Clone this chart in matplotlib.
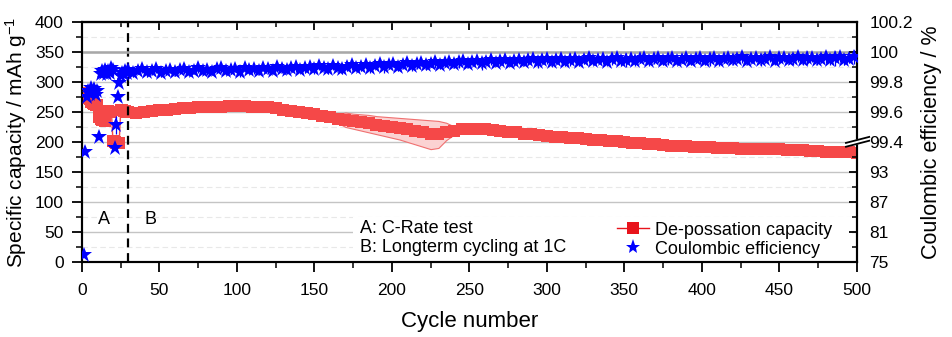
import numpy as np
import matplotlib
matplotlib.use("Agg")
import matplotlib.pyplot as plt
from matplotlib.lines import Line2D
from matplotlib.patches import Rectangle
from matplotlib.ticker import MultipleLocator, FixedLocator

plt.rcParams["font.family"] = ["Liberation Sans", "DejaVu Sans"]
plt.rcParams["mathtext.fontset"] = "custom"
plt.rcParams["mathtext.rm"] = "Liberation Sans"
plt.rcParams["mathtext.it"] = "Liberation Sans:italic"

# rate test (cycles 1-29), one point per cycle
cyc_early = list(range(1, 30))
cap_early = [281, 278, 276, 274, 272, 267, 265, 263, 262, 261,
             241, 239, 237, 236, 235, 252, 251, 250, 250,
             201, 200, 199, 198, 198, 254, 253, 252, 251, 250]
ce_early = [76.4, 97.0, 99.70, 99.74, 99.72, 99.76, 99.73, 99.75, 99.71, 99.74,
            99.43, 99.85, 99.87, 99.86, 99.88, 99.85, 99.87, 99.86, 99.89, 99.88,
            97.8, 99.51, 99.70, 99.79, 99.84, 99.86, 99.85, 99.87, 99.86]
ce_early_err = [0.0, 0.0, 0.01, 0.01, 0.01, 0.01, 0.01, 0.01, 0.01, 0.01,
                0.0, 0.015, 0.015, 0.015, 0.015, 0.015, 0.02, 0.015, 0.02, 0.04,
                0.0, 0.06, 0.02, 0.02, 0.015, 0.015, 0.015, 0.015, 0.015]

# long-term cycling at 1C: capacity every 5th cycle from 30 to 500
cap_cyc = list(range(30, 501, 5))
cap_long = [250, 249, 250, 251, 253, 254, 255, 256, 257, 258,
            258, 259, 259, 260, 260, 260, 259, 259, 258, 256,
            254, 252, 250, 248, 246, 244, 241, 239, 237, 235,
            233, 231, 229, 227, 225, 223, 221, 219, 216, 214,
            214, 216, 219, 221, 222, 222, 221, 220, 219, 217,
            216, 214, 213, 211, 210, 209, 208, 207, 206, 205,
            204, 203, 202, 201, 200, 199, 198, 197, 196, 195,
            194, 194, 193, 192, 191, 191, 190, 190, 190, 189,
            189, 189, 188, 188, 188, 187, 187, 186, 185, 185,
            184, 184, 183, 183, 182]

# coulombic efficiency every 3rd cycle from 30 to 498
ce_cyc = list(range(30, 499, 3))
ce_long = [99.878, 99.862, 99.874, 99.885, 99.866, 99.871, 99.889, 99.860, 99.876, 99.882,
           99.868, 99.880, 99.887, 99.864, 99.875, 99.891, 99.870, 99.878, 99.866, 99.884,
           99.892, 99.872, 99.881, 99.888, 99.869, 99.894, 99.879, 99.885, 99.874, 99.896,
           99.883, 99.876, 99.899, 99.886, 99.878, 99.893, 99.902, 99.881, 99.890, 99.897,
           99.884, 99.905, 99.893, 99.888, 99.908, 99.896, 99.884, 99.902, 99.911, 99.893,
           99.899, 99.914, 99.890, 99.905, 99.918, 99.897, 99.910, 99.921, 99.902, 99.913,
           99.925, 99.906, 99.917, 99.929, 99.911, 99.921, 99.932, 99.914, 99.926, 99.935,
           99.918, 99.930, 99.939, 99.921, 99.933, 99.942, 99.924, 99.936, 99.944, 99.927,
           99.938, 99.947, 99.929, 99.941, 99.949, 99.931, 99.943, 99.952, 99.933, 99.945,
           99.950, 99.934, 99.946, 99.955, 99.936, 99.948, 99.953, 99.935, 99.947, 99.957,
           99.938, 99.949, 99.954, 99.936, 99.951, 99.959, 99.939, 99.948, 99.956, 99.937,
           99.952, 99.958, 99.940, 99.950, 99.961, 99.938, 99.953, 99.957, 99.941, 99.949,
           99.960, 99.939, 99.954, 99.958, 99.942, 99.951, 99.962, 99.940, 99.955, 99.959,
           99.943, 99.950, 99.963, 99.941, 99.956, 99.960, 99.944, 99.952, 99.964, 99.942,
           99.957, 99.961, 99.945, 99.953, 99.965, 99.943, 99.958, 99.962, 99.946, 99.954,
           99.966, 99.944, 99.959, 99.963, 99.947, 99.955, 99.967]
ce_long_err = [0.024, 0.031, 0.020, 0.027, 0.035, 0.022, 0.029, 0.025, 0.033, 0.021,
               0.028, 0.023, 0.036, 0.026, 0.022, 0.030, 0.025, 0.034, 0.021, 0.027,
               0.032, 0.024, 0.029, 0.022, 0.038, 0.026, 0.023, 0.031, 0.027, 0.025,
               0.030, 0.022, 0.035, 0.027, 0.024, 0.029, 0.033, 0.023, 0.028, 0.026,
               0.031, 0.025, 0.022, 0.037, 0.027, 0.024, 0.030, 0.026, 0.034, 0.023,
               0.029, 0.025, 0.032, 0.022, 0.028, 0.040, 0.026, 0.024, 0.031, 0.027,
               0.023, 0.033, 0.028, 0.025, 0.030, 0.024, 0.036, 0.027, 0.022, 0.029,
               0.026, 0.034, 0.025, 0.031, 0.023, 0.028, 0.042, 0.026, 0.030, 0.024,
               0.032, 0.027, 0.025, 0.035, 0.028, 0.023, 0.030, 0.026, 0.038, 0.025,
               0.029, 0.033, 0.024, 0.031, 0.027, 0.045, 0.026, 0.030, 0.025, 0.034,
               0.028, 0.024, 0.032, 0.027, 0.036, 0.025, 0.030, 0.048, 0.026, 0.031,
               0.029, 0.025, 0.034, 0.028, 0.032, 0.026, 0.039, 0.027, 0.030, 0.025,
               0.033, 0.028, 0.026, 0.036, 0.029, 0.044, 0.027, 0.031, 0.026, 0.035,
               0.030, 0.027, 0.038, 0.028, 0.033, 0.026, 0.041, 0.029, 0.032, 0.027,
               0.036, 0.030, 0.028, 0.039, 0.031, 0.027, 0.046, 0.030, 0.034, 0.029,
               0.038, 0.032, 0.050, 0.033, 0.036, 0.031, 0.045]

# spread of the capacity over parallel cells
band_cyc = list(range(160, 246, 5))
band_hi = [241, 246, 249, 247, 246, 245, 243, 242, 241, 240, 239, 238, 237, 236, 235, 232, 226, 221]
band_lo = [241, 232, 225, 222, 219, 216, 213, 210, 207, 204, 200, 196, 192, 188, 190, 203, 212, 221]

ce_ticks = [75, 81, 87, 93, 99.4, 99.6, 99.8, 100, 100.2]
ce_ticklabels = ["75", "81", "87", "93", "99.4", "99.6", "99.8", "100", "100.2"]
ce_minor = [78, 84, 90, 96, 99.5, 99.7, 99.9, 100.1]

# broken efficiency axis: 75-99 on the lower half, 99.4-100.2 on the upper half
CE_KNOTS = [75, 99, 99.4, 100.2]
Y_KNOTS = [0, 200, 200.001, 400]


def ce_fwd(v):
    return np.interp(v, CE_KNOTS, Y_KNOTS)


def ce_inv(v):
    return np.interp(v, Y_KNOTS, CE_KNOTS)


RED = "#f54848"
BLUE = "#0000ff"

fig = plt.figure(figsize=(9.52, 3.37), dpi=100)
ax = fig.add_axes([0.0861, 0.2226, 0.9 - 0.0861, 0.935 - 0.2226])
ax2 = ax.twinx()
ax2.set_yscale("function", functions=(ce_fwd, ce_inv))

# capacity
ax.fill_between(band_cyc, band_lo, band_hi, facecolor="#fbd2d2", edgecolor="#f07070",
                lw=0.8, zorder=2)
ax.plot(cyc_early + cap_cyc, cap_early + cap_long, color=RED, lw=1, marker="s", ms=8.5,
        mew=0, zorder=3)

# coulombic efficiency
ax2.axhline(100, color="#a8a8a8", lw=1.8, zorder=0)
ax2.errorbar(cyc_early + ce_cyc, ce_early + ce_long, yerr=ce_early_err + ce_long_err,
             fmt="*", color=BLUE, ms=12, mew=0, elinewidth=0.9, capsize=3.5, capthick=0.9,
             zorder=3)

ax.set_xlim(0, 500)
ax.set_ylim(0, 400)
ax2.set_ylim(75, 100.2)

ax.xaxis.set_major_locator(MultipleLocator(50))
ax.xaxis.set_minor_locator(MultipleLocator(25))
ax.yaxis.set_major_locator(MultipleLocator(50))
ax.yaxis.set_minor_locator(MultipleLocator(25))
ax2.yaxis.set_major_locator(FixedLocator(ce_ticks))
ax2.yaxis.set_minor_locator(FixedLocator(ce_minor))
ax2.set_yticklabels(ce_ticklabels)

ax.set_axisbelow(True)
ax.yaxis.grid(True, which="major", color="#c4c4c4", lw=1.0)
ax.yaxis.grid(True, which="minor", color="#e8e8e8", lw=0.8, ls=(0, (5, 3)))

ax.tick_params(axis="both", which="major", direction="out", length=7, width=1.3,
               labelsize=12.5, pad=6, right=False, top=False)
ax.tick_params(axis="both", which="minor", direction="out", length=4, width=1.1,
               right=False, top=False)
ax.tick_params(axis="x", which="major", pad=8)
ax2.tick_params(axis="y", which="major", direction="in", length=6, width=1.3,
                labelsize=12.5, pad=9)
ax2.tick_params(axis="y", which="minor", direction="in", length=3.5, width=1.1)

top = ax.secondary_xaxis("top")
top.xaxis.set_major_locator(MultipleLocator(50))
top.xaxis.set_minor_locator(MultipleLocator(25))
top.tick_params(which="major", direction="in", length=6, width=1.3, labeltop=False)
top.tick_params(which="minor", direction="in", length=3.5, width=1.1)
top.spines["top"].set_linewidth(1.5)

for a in (ax, ax2):
    for s in a.spines.values():
        s.set_linewidth(1.5)
        s.set_color("black")

ax.set_xlabel("Cycle number", fontsize=16)
ax.xaxis.set_label_coords(0.5, -0.205)
ax.set_ylabel("Specific capacity / mAh g$^{-1}$", fontsize=15)
ax.yaxis.set_label_coords(-0.068, 0.5)
ax2.set_ylabel("Coulombic efficiency / %", fontsize=15.5, rotation=90)
ax2.yaxis.set_label_coords(1.083, 0.5)

# end of the rate test
ax.axvline(30, color="black", lw=1.6, ls=(0, (4, 2.6)), zorder=4)
ax.text(14, 70, "A", fontsize=13, ha="center", va="center")
ax.text(44, 70, "B", fontsize=13, ha="center", va="center")

# white area behind the notes and the legend
ax.add_patch(Rectangle((175, 3), 322, 72, facecolor="white", edgecolor="none", zorder=1))
ax.text(179.5, 56, "A: C-Rate test", fontsize=13, va="center", zorder=5)
ax.text(179.5, 24, "B: Longterm cycling at 1C", fontsize=13, va="center", zorder=5)

handles = [Line2D([], [], color="#e8141c", lw=1, marker="s", ms=9, mew=0),
           Line2D([], [], color=BLUE, lw=0, marker="*", ms=11, mew=0)]
ax.legend(handles, ["De-possation capacity", "Coulombic efficiency"],
          loc="upper left", bbox_to_anchor=(0.69, 0.168), frameon=False, fontsize=13,
          handlelength=1.8, handletextpad=0.3, labelspacing=0.12, borderpad=0,
          borderaxespad=0)

# break marks on the right spine
t = ax2.transAxes
ax2.fill([0.988, 1.013, 1.013, 0.988], [0.482, 0.503, 0.518, 0.497], color="white",
         transform=t, clip_on=False, zorder=10)
for dy in (0.0, 0.016):
    ax2.plot([0.986, 1.016], [0.480 + dy, 0.505 + dy], color="black", lw=1.3,
             transform=t, clip_on=False, zorder=11)

fig.savefig("out.png", dpi=100)
